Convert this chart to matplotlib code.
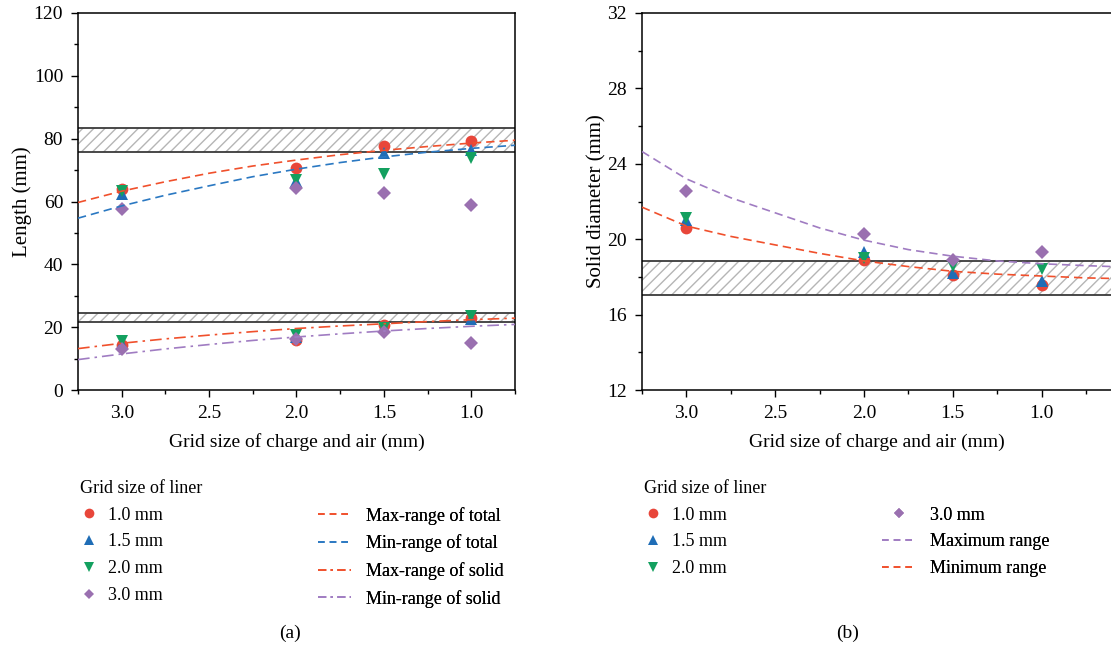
import matplotlib
matplotlib.use("Agg")
import matplotlib.pyplot as plt
from matplotlib.lines import Line2D

plt.rcParams['font.family'] = ['Liberation Serif', 'DejaVu Serif']
plt.rcParams['font.size'] = 13

# Grid size of charge and air (mm)
grid_x = [3.0, 2.0, 1.5, 1.0]
liner_labels = ["1.0 mm", "1.5 mm", "2.0 mm", "3.0 mm"]

# (a) total length, one list per liner grid size
total_len = {
    "1.0 mm": [64.0, 70.7, 77.7, 79.3],
    "1.5 mm": [62.5, 66.5, 75.5, 76.5],
    "2.0 mm": [63.2, 67.0, 68.7, 74.0],
    "3.0 mm": [57.5, 64.3, 62.8, 58.9],
}
# (a) solid length
solid_len = {
    "1.0 mm": [14.2, 16.0, 20.6, 22.8],
    "1.5 mm": [14.6, 17.0, 20.2, 22.5],
    "2.0 mm": [15.5, 17.5, 19.6, 23.5],
    "3.0 mm": [13.0, 16.3, 18.5, 15.0],
}
# (b) solid diameter
solid_dia = {
    "1.0 mm": [20.6, 18.9, 18.1, 17.55],
    "1.5 mm": [21.0, 19.3, 18.2, 17.8],
    "2.0 mm": [21.1, 19.0, 18.6, 18.4],
    "3.0 mm": [22.55, 20.3, 18.9, 19.3],
}

# fitted range curves
fit_x = [3.25, 3.0, 2.75, 2.5, 2.25, 2.0, 1.75, 1.5, 1.25, 1.0, 0.75]
max_total = [59.7, 63.3, 66.3, 69.0, 71.3, 73.2, 74.9, 76.3, 77.5, 78.6, 79.5]
min_total = [54.7, 58.6, 62.0, 65.0, 67.9, 70.3, 72.4, 74.2, 75.7, 76.9, 77.9]
max_solid = [13.2, 14.9, 16.3, 17.5, 18.6, 19.6, 20.4, 21.1, 21.8, 22.4, 22.9]
min_solid = [9.7, 11.5, 13.1, 14.5, 15.8, 16.9, 17.9, 18.8, 19.6, 20.3, 20.9]

fit_x_b = [3.25, 3.0, 2.75, 2.5, 2.25, 2.0, 1.75, 1.5, 1.25, 1.0, 0.75, 0.6]
max_dia = [24.65, 23.2, 22.2, 21.4, 20.6, 19.95, 19.45, 19.1, 18.85, 18.7, 18.6, 18.55]
min_dia = [21.7, 20.7, 20.15, 19.7, 19.25, 18.85, 18.55, 18.3, 18.15, 18.05, 17.95, 17.92]

# target bands
band_total = (75.9, 83.3)
band_solid = (21.7, 24.4)
band_dia = (17.02, 18.86)

markers = {"1.0 mm": "o", "1.5 mm": "^", "2.0 mm": "v", "3.0 mm": "D"}
mcolors = {"1.0 mm": "#e8463a", "1.5 mm": "#1f6db6", "2.0 mm": "#13a05f", "3.0 mm": "#9a70b0"}
msizes = {"1.0 mm": 8.5, "1.5 mm": 8.5, "2.0 mm": 8.5, "3.0 mm": 7}
red_line = "#f0502c"
blue_line = "#2a78c2"
purple_line = "#a07cc2"
dash = (0, (5, 3))
dashdot = (0, (7, 3, 1.5, 3))


def draw_band(ax, lo, hi):
    ax.axhspan(lo, hi, facecolor="white", edgecolor="#b5b5b5", hatch="///", linewidth=0, zorder=1)
    ax.axhline(lo, color="#3a3a3a", lw=1.3, zorder=2)
    ax.axhline(hi, color="#3a3a3a", lw=1.3, zorder=2)


def style_axes(ax):
    ax.tick_params(direction="out", length=4.7, width=1, labelsize=14, pad=6)
    ax.tick_params(which="minor", direction="out", length=3, width=1)
    ax.set_xticks([3.0, 2.5, 2.0, 1.5, 1.0])
    ax.set_xticks([3.25, 2.75, 2.25, 1.75, 1.25, 0.75], minor=True)
    ax.set_xticklabels(["3.0", "2.5", "2.0", "1.5", "1.0"])
    ax.set_xlabel("Grid size of charge and air (mm)", fontsize=14, labelpad=8)
    for s in ax.spines.values():
        s.set_linewidth(1.1)


def marker_handle(lab):
    return Line2D([], [], ls="none", marker=markers[lab], color=mcolors[lab],
                  markersize=msizes[lab] - 1.5, markeredgewidth=0)


def add_legend(ax, handles, labels, x_px, title, hlen, pad):
    leg = ax.legend(handles, labels, title=title, alignment="left", loc="upper left",
                    bbox_to_anchor=(x_px / 1111, 1 - 480 / 648), bbox_transform=fig.transFigure,
                    frameon=False, fontsize=13, title_fontsize=13, handlelength=hlen,
                    handletextpad=pad, labelspacing=0.54, borderaxespad=0, borderpad=0)
    ax.add_artist(leg)
    return leg


fig = plt.figure(figsize=(11.11, 6.48), dpi=100)
ax1 = fig.add_axes([0.0702, 0.398, 0.3933, 0.582])
ax2 = fig.add_axes([0.5779, 0.398, 0.4235, 0.582])

# ---- (a) ----
draw_band(ax1, *band_total)
draw_band(ax1, *band_solid)
for lab in liner_labels:
    ax1.plot(grid_x, total_len[lab], linestyle="none", marker=markers[lab], color=mcolors[lab],
             markersize=msizes[lab], markeredgewidth=0, zorder=3)
    ax1.plot(grid_x, solid_len[lab], linestyle="none", marker=markers[lab], color=mcolors[lab],
             markersize=msizes[lab], markeredgewidth=0, zorder=3)
ax1.plot(fit_x, max_total, color=red_line, ls=dash, lw=1.2, zorder=4)
ax1.plot(fit_x, min_total, color=blue_line, ls=dash, lw=1.2, zorder=4)
ax1.plot(fit_x, max_solid, color=red_line, ls=dashdot, lw=1.2, zorder=4)
ax1.plot(fit_x, min_solid, color=purple_line, ls=dashdot, lw=1.2, zorder=4)
ax1.set_xlim(3.25, 0.75)
ax1.set_ylim(0, 120)
ax1.set_yticks([0, 20, 40, 60, 80, 100, 120])
ax1.set_yticks(range(10, 120, 20), minor=True)
ax1.set_ylabel("Length (mm)", fontsize=15, labelpad=1)
style_axes(ax1)

add_legend(ax1, [marker_handle(l) for l in liner_labels], liner_labels, 80,
           "Grid size of liner", 1.0, 0.55)
line_handles_a = [
    Line2D([], [], color=red_line, ls=(0, (4, 3)), lw=1.2),
    Line2D([], [], color=blue_line, ls=(0, (4, 3)), lw=1.2),
    Line2D([], [], color=red_line, ls=(0, (5, 2.5, 1.5, 2.5)), lw=1.2),
    Line2D([], [], color=purple_line, ls=(0, (5, 2.5, 1.5, 2.5)), lw=1.2),
]
add_legend(ax1, line_handles_a, ["Max-range of total", "Min-range of total",
                                 "Max-range of solid", "Min-range of solid"],
           318, " ", 1.85, 0.83)

# ---- (b) ----
draw_band(ax2, *band_dia)
for lab in liner_labels:
    ax2.plot(grid_x, solid_dia[lab], linestyle="none", marker=markers[lab], color=mcolors[lab],
             markersize=msizes[lab], markeredgewidth=0, zorder=3)
ax2.plot(fit_x_b, max_dia, color=purple_line, ls=dash, lw=1.2, zorder=4)
ax2.plot(fit_x_b, min_dia, color=red_line, ls=dash, lw=1.2, zorder=4)
ax2.set_xlim(3.25, 0.6)
ax2.set_ylim(12, 32)
ax2.set_yticks([12, 16, 20, 24, 28, 32])
ax2.set_yticks([14, 18, 22, 26, 30], minor=True)
ax2.set_ylabel("Solid diameter (mm)", fontsize=15, labelpad=1)
style_axes(ax2)

add_legend(ax2, [marker_handle(l) for l in liner_labels[:3]], liner_labels[:3], 644,
           "Grid size of liner", 1.0, 0.55)
add_legend(ax2, [marker_handle("3.0 mm"),
                 Line2D([], [], color=purple_line, ls=(0, (4, 3)), lw=1.2),
                 Line2D([], [], color=red_line, ls=(0, (4, 3)), lw=1.2)],
           ["3.0 mm", "Maximum range", "Minimum range"], 882, " ", 1.85, 0.83)

fig.text(290 / 1111, 1 - 633 / 648, "(a)", ha="center", va="center", fontsize=14)
fig.text(848 / 1111, 1 - 633 / 648, "(b)", ha="center", va="center", fontsize=14)

fig.savefig("out.png", dpi=100)
